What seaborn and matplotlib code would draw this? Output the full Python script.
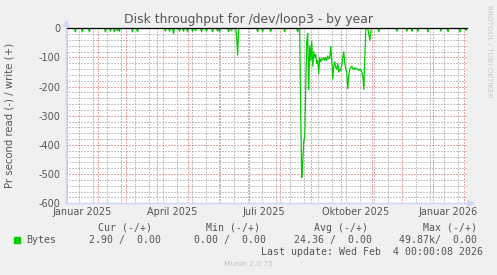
import numpy as np
import pandas as pd
import matplotlib
matplotlib.use("Agg")
import matplotlib.pyplot as plt
import matplotlib.dates as mdates
from matplotlib.ticker import MultipleLocator, NullFormatter
from matplotlib.patches import Polygon, Rectangle
import seaborn as sns

# ---------------- data ----------------
start_date = "2024-12-31"
end_date = "2026-02-04"

# isolated small read bursts (Bytes/s, read is drawn negative)
spike_dates = ["2025-01-09", "2025-01-16", "2025-01-23", "2025-02-08", "2025-02-13",
               "2025-02-17", "2025-02-20", "2025-02-22", "2025-03-07", "2025-03-12",
               "2025-04-09", "2025-04-13", "2025-04-17", "2025-04-23", "2025-04-27",
               "2025-05-01", "2025-05-06", "2025-05-09", "2025-05-15", "2025-05-20",
               "2025-05-26", "2025-05-31", "2025-06-02", "2025-06-11", "2025-06-14",
               "2025-06-19", "2025-06-20", "2025-07-10", "2025-07-15", "2025-07-23",
               "2025-08-06", "2025-08-19",
               "2025-11-08", "2025-11-26", "2025-12-06", "2025-12-11", "2025-12-17",
               "2025-12-27", "2026-01-09", "2026-01-16", "2026-01-28", "2026-02-03"]
spike_values = [-12, -12, -12, -12, -10,
                -12, -8, -10, -12, -12,
                -10, -10, -18, -10, -10,
                -12, -10, -8, -12, -10,
                -12, -10, -10, -12, -8,
                -25, -92, -12, -10, -12,
                -12, -12,
                -12, -10, -10, -10, -10,
                -12, -10, -12, -12, -8]

# busy period, one value per day
busy_start = "2025-08-21"
busy_values = [-5, -300, -512, -460, -390, -370, -200, -45, -18, -210,
               -60, -110, -45, -130, -80, -100, -90, -120, -110, -155,
               -100, -115, -105, -108, -100, -110, -100, -110, -95, -105,
               -100, -62, -110, -173, -130, -115, -135, -140, -120, -150,
               -140, -145, -125, -100, -80, -120, -140, -150, -207, -160,
               -140, -135, -130, -138, -142, -135, -140, -138, -140, -145,
               -140, -143, -150, -165, -210, -100, -5, 0, 0, -20,
               -41, -10, 0]

y_ticks = [0, -100, -200, -300, -400, -500, -600]
x_label_dates = ["2025-01-16", "2025-04-16", "2025-07-16", "2025-10-16", "2026-01-16"]
x_label_texts = ["Januar 2025", "April 2025", "Juli 2025", "Oktober 2025", "Januar 2026"]

legend_headers = ["Cur (-/+)", "Min (-/+)", "Avg (-/+)", "Max (-/+)"]
legend_values = ["2.90 /  0.00", "0.00 /  0.00", "24.36 /  0.00", "49.87k/  0.00"]

# ---------------- build series ----------------
days = pd.date_range(start_date, end_date, freq="D")
series = pd.Series(0.0, index=days)
series.loc[pd.to_datetime(spike_dates)] = spike_values
busy_idx = pd.date_range(busy_start, periods=len(busy_values), freq="D")
series.loc[busy_idx] = busy_values
df = pd.DataFrame({"date": series.index, "read": series.values})

# ---------------- figure ----------------
W, H = 497, 275
fig = plt.figure(figsize=(W / 100, H / 100), dpi=100, facecolor="#F0F0F0")
x0, x1, y0, y1 = 66.3, 467.0, 28.3, 203.3
ax = fig.add_axes([x0 / W, 1 - y1 / H, (x1 - x0) / W, (y1 - y0) / H])
ax.set_facecolor("white")

sns.lineplot(data=df, x="date", y="read", ax=ax, color="#00CC00", linewidth=0.9,
             zorder=3, legend=False)
ax.axhline(0, color="black", linewidth=0.9, zorder=4, clip_on=False)

ax.set_xlim(pd.Timestamp(start_date), pd.Timestamp(end_date))
ax.set_ylim(-600, 0)

grid_dash = (0, (1, 2))
ax.yaxis.set_major_locator(plt.FixedLocator(y_ticks))
ax.yaxis.set_minor_locator(MultipleLocator(20))
ax.xaxis.set_major_locator(mdates.MonthLocator())
ax.xaxis.set_minor_locator(mdates.WeekdayLocator(byweekday=mdates.MO, interval=2))
ax.xaxis.set_major_formatter(NullFormatter())
ax.xaxis.set_minor_formatter(NullFormatter())
ax.grid(which="major", color=(0.87, 0.31, 0.31, 0.55), linewidth=0.72, linestyle=grid_dash)
ax.grid(which="minor", color=(0.56, 0.56, 0.56, 0.45), linewidth=0.72, linestyle=grid_dash)
ax.set_axisbelow(True)

ax.tick_params(which="both", length=0)
ax.tick_params(axis="y", labelsize=7, labelcolor="#555555", pad=4.5)
ax.set_yticklabels([str(v) for v in y_ticks])
ax.set_xlabel("")
ax.set_ylabel("")

for s in ["top", "right"]:
    ax.spines[s].set_visible(False)
for s in ["left", "bottom"]:
    ax.spines[s].set_color("#CFD6F8")
    ax.spines[s].set_linewidth(0.9)


def fx(px):
    return px / W


def fy(py):
    return 1 - py / H


# axis arrows
fig.add_artist(plt.Line2D([fx(x0), fx(x0)], [fy(y1), fy(22)], color="#CFD6F8", lw=0.9))
fig.add_artist(plt.Line2D([fx(x0), fx(473)], [fy(y1), fy(y1)], color="#CFD6F8", lw=0.9))
fig.add_artist(Polygon([[fx(63.5), fy(26.5)], [fx(69), fy(26.5)], [fx(66.3), fy(20.5)]],
                       closed=True, transform=fig.transFigure, color="#CFD6F8"))
fig.add_artist(Polygon([[fx(468), fy(200.5)], [fx(468), fy(206)], [fx(474), fy(203.3)]],
                       closed=True, transform=fig.transFigure, color="#CFD6F8"))

# x labels (centred mid-month)
for d, t in zip(x_label_dates, x_label_texts):
    xd = mdates.date2num(pd.Timestamp(d))
    xf = ax.transData.transform((xd, 0))[0]
    fig.text(xf / fig.bbox.width, fy(212.3), t, ha="center", va="center",
             fontsize=7, color="#555555")

# title and labels
fig.text(0.5, fy(19), "Disk throughput for /dev/loop3 - by year", ha="center",
         va="center", fontsize=8.9, color="#555555")
fig.text(fx(10), fy(115.8), "Pr second read (-) / write (+)", rotation=90,
         ha="center", va="center", fontsize=7.3, color="#555555")
fig.text(fx(488.5), fy(5), "RRDTOOL / TOBI OETIKER", rotation=-90, ha="center",
         va="top", fontsize=5.2, color="#C8C8C8")

# legend block
mono = "DejaVu Sans Mono"
fs = 7.1
head_right = [152, 260, 368, 477]
val_right = [161, 266, 372, 477]
for t, r in zip(legend_headers, head_right):
    fig.text(fx(r), fy(227.7), t, ha="right", va="center", family=mono, fontsize=fs,
             color="#555555")
fig.add_artist(Rectangle((fx(14), fy(242.8)), 5.5 / W, 5.5 / H, transform=fig.transFigure,
                         color="#00CC00"))
fig.text(fx(26), fy(240), "Bytes", ha="left", va="center", family=mono, fontsize=fs,
         color="#555555")
for t, r in zip(legend_values, val_right):
    fig.text(fx(r), fy(240), t, ha="right", va="center", family=mono, fontsize=fs,
             color="#555555")
fig.text(fx(483), fy(251.7), "Last update: Wed Feb  4 00:00:08 2026", ha="right",
         va="center", family=mono, fontsize=fs, color="#555555")
fig.text(fx(248), fy(264), "Munin 2.0.75", ha="center", va="center", fontsize=5.4,
         color="#C0C0C0")

fig.savefig("out.png", dpi=100, facecolor=fig.get_facecolor())
